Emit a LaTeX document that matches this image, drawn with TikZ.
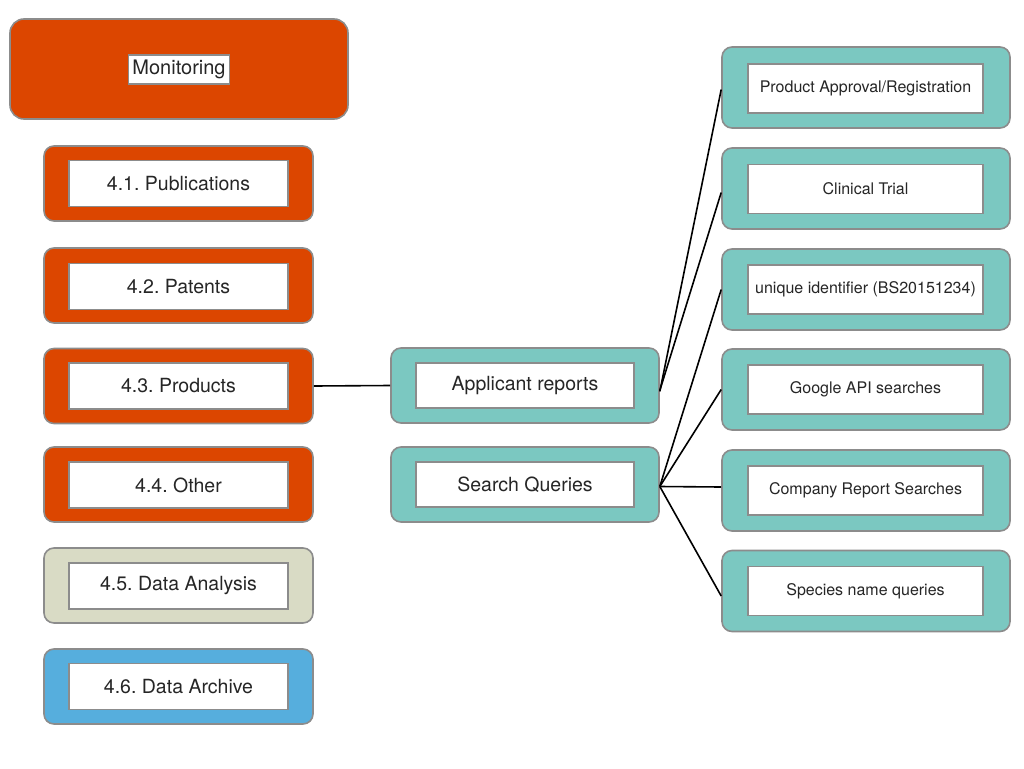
\documentclass[tikz,border=0pt]{standalone}
\usepackage{fontspec}
\setmainfont{TeX Gyre Heros}
\frenchspacing
\definecolor{orangefill}{HTML}{DC4600}
\definecolor{tealfill}{HTML}{7BC8C1}
\definecolor{beigefill}{HTML}{D9DBC5}
\definecolor{bluefill}{HTML}{56AEDD}
\definecolor{edgegray}{HTML}{8C8C8C}
\definecolor{textgray}{HTML}{262626}
\begin{document}
\begin{tikzpicture}[x=1pt,y=-1pt,
  outerbox/.style={draw=edgegray, line width=1.6pt, rounded corners=10pt, inner sep=0pt},
  leftbox/.style={outerbox, minimum width=269pt, minimum height=75pt},
  midbox/.style={outerbox, fill=tealfill, minimum width=268pt, minimum height=75pt},
  rightbox/.style={outerbox, fill=tealfill, minimum width=288pt, minimum height=81pt},
  label/.style={draw=edgegray, line width=1.6pt, fill=white, inner sep=0pt, text=textgray},
  leftlabel/.style={label, minimum width=219pt, minimum height=46pt, font=\fontsize{19.5}{23}\selectfont},
  midlabel/.style={label, minimum width=218pt, minimum height=45pt, font=\fontsize{19.5}{23}\selectfont},
  rightlabel/.style={label, minimum width=235pt, minimum height=49pt, font=\fontsize{16}{19}\selectfont},
  link/.style={draw=black, line width=1.6pt}]
\useasboundingbox (0,0) rectangle (1024,768);

% title block
\node[outerbox, rounded corners=14pt, fill=orangefill, minimum width=338pt, minimum height=100pt] (mon) at (179,69) {};
\node[label, inner xsep=4pt, minimum height=29pt, font=\fontsize{20}{24}\selectfont] (monl) at (179,69.5) {Monitoring};

% left column
\node[leftbox, fill=orangefill] (pub) at (178.5,183.5) {};
\node[leftlabel] (publ) at (178.5,183.5) {4.1. Publications};
\node[leftbox, fill=orangefill] (pat) at (178.5,285.5) {};
\node[leftlabel] (patl) at (178.5,286.5) {4.2. Patents};
\node[leftbox, fill=orangefill] (prod) at (178.5,386) {};
\node[leftlabel] (prodl) at (178.5,386) {4.3. Products};
\node[leftbox, fill=orangefill] (oth) at (178.5,484.5) {};
\node[leftlabel] (othl) at (178.5,485) {4.4. Other};
\node[leftbox, fill=beigefill] (ana) at (178.5,585.5) {};
\node[leftlabel] (anal) at (178.5,586) {4.5. Data Analysis};
\node[leftbox, fill=bluefill] (arc) at (178.5,686.5) {};
\node[leftlabel] (arcl) at (178.5,686.5) {4.6. Data Archive};

% middle column
\node[midbox] (app) at (525,385.5) {};
\node[midlabel] (appl) at (525,385.5) {Applicant reports};
\node[midbox] (sq) at (525,484.5) {};
\node[midlabel] (sql) at (525,484.5) {Search Queries};

% right column
\node[rightbox] (pa) at (866,87.5) {};
\node[rightlabel] (pal) at (865.5,88.5) {Product Approval/Registration};
\node[rightbox] (ct) at (866,188.5) {};
\node[rightlabel] (ctl) at (865.5,189) {Clinical Trial};
\node[rightbox] (uid) at (866,289.5) {};
\node[rightlabel] (uidl) at (865.5,289.5) {unique identifier (BS20151234)};
\node[rightbox] (gapi) at (866,389.5) {};
\node[rightlabel] (gapil) at (865.5,389.5) {Google API searches};
\node[rightbox] (crs) at (866,490.5) {};
\node[rightlabel] (crsl) at (865.5,490.5) {Company Report Searches};
\node[rightbox] (spn) at (866,591) {};
\node[rightlabel] (spnl) at (865.5,591) {Species name queries};

% connectors (yshift is on the page: negative moves down)
\draw[link] ([yshift=-6pt]app.east) -- ([yshift=-2pt]pa.west);
\draw[link] ([yshift=-5pt]app.east) -- ([yshift=-4pt]ct.west);
\draw[link] (prod.east) -- (app.west);
\draw[link] ([yshift=-2pt]sq.east) -- (uid.west);
\draw[link] ([yshift=-2pt]sq.east) -- (gapi.west);
\draw[link] ([yshift=-2pt]sq.east) -- ([yshift=3.5pt]crs.west);
\draw[link] ([yshift=-2pt]sq.east) -- ([yshift=-5pt]spn.west);
\end{tikzpicture}
\end{document}
